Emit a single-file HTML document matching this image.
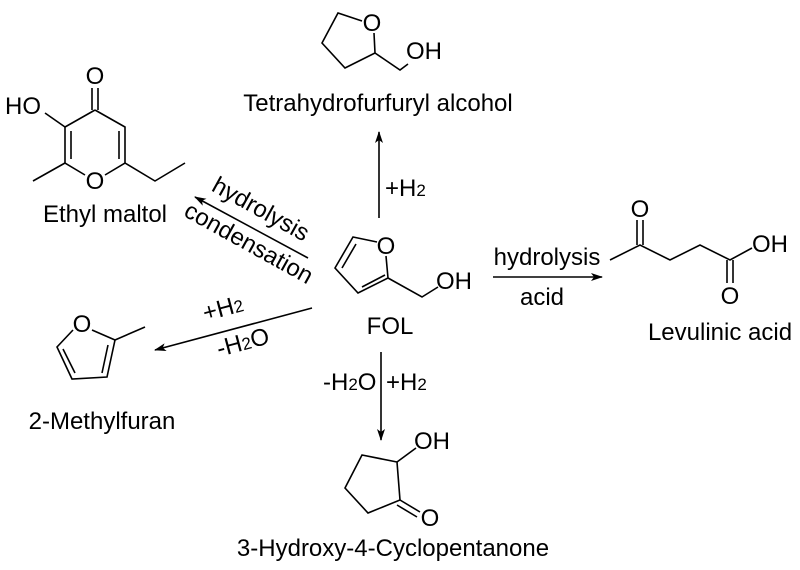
<!DOCTYPE html>
<html><head><meta charset="utf-8"><style>
html,body{margin:0;padding:0;background:#fff;}
svg{display:block;}
text{font-family:"Liberation Sans",Arial,sans-serif;fill:#000;}
</style></head><body>
<svg width="800" height="570" viewBox="0 0 800 570" xmlns="http://www.w3.org/2000/svg">
<defs><marker id="ah" markerWidth="12" markerHeight="8" refX="11" refY="4" orient="auto" markerUnits="userSpaceOnUse"><path d="M0,0 L12,4 L0,8 L3,4 Z" fill="#000"/></marker></defs>
<g stroke="#000" stroke-width="1.6" fill="none">
<!-- THFA -->
<polyline points="362,21 338,13 322,43 345,68 375,53 374,33"/>
<polyline points="375,53 400,70 408,64"/>
<!-- Ethyl maltol -->
<line x1="92" y1="88" x2="92" y2="110"/><line x1="98" y1="88" x2="98" y2="110"/>
<polyline points="95,110 65,127 65,163 85,175"/>
<polyline points="105,175 125,163 125,127 95,110"/>
<line x1="71" y1="131" x2="71" y2="159"/>
<line x1="119" y1="131" x2="119" y2="159"/>
<line x1="65" y1="127" x2="45" y2="113"/>
<polyline points="65,163 33,181"/>
<polyline points="125,163 155,181 185,163"/>
<!-- FOL -->
<polyline points="377,242 353,237 335,268 358,293 388,278 386,256"/>
<line x1="356" y1="244" x2="342" y2="268"/>
<line x1="362" y1="287" x2="385" y2="275"/>
<polyline points="388,278 422,297 438,287"/>
<!-- Levulinic -->
<polyline points="610,260 640,245 670,260 700,245 730,260 752,248"/>
<line x1="637" y1="245" x2="637" y2="220"/><line x1="643" y1="245" x2="643" y2="220"/>
<line x1="727" y1="260" x2="727" y2="283"/><line x1="733" y1="260" x2="733" y2="283"/>
<!-- 2-methylfuran -->
<polyline points="92,330 115,340 107,377 72,379 57,347 73,330"/>
<line x1="108" y1="345" x2="102" y2="373"/>
<line x1="63" y1="349" x2="75" y2="373"/>
<line x1="115" y1="340" x2="145" y2="327"/>
<!-- cyclopentanone -->
<polyline points="397,462 400,500 368,513 345,488 362,455 397,462"/>
<line x1="397" y1="462" x2="416" y2="448"/>
<line x1="400" y1="500" x2="420" y2="512"/>
<line x1="397" y1="505" x2="417" y2="517"/>
<!-- arrows -->
<line x1="379" y1="218" x2="379" y2="132" marker-end="url(#ah)"/>
<line x1="308" y1="258" x2="195" y2="197" marker-end="url(#ah)"/>
<line x1="493" y1="277" x2="602" y2="277" marker-end="url(#ah)"/>
<line x1="312" y1="308" x2="155" y2="350" marker-end="url(#ah)"/>
<line x1="381" y1="352" x2="381" y2="440" marker-end="url(#ah)"/>
</g>
<g font-size="24">
<text x="372" y="31" text-anchor="middle">O</text>
<text x="406" y="59">OH</text>
<text x="378" y="111" text-anchor="middle">Tetrahydrofurfuryl alcohol</text>
<text x="95" y="84" text-anchor="middle">O</text>
<text x="95" y="189" text-anchor="middle">O</text>
<text x="5" y="114">HO</text>
<text x="105" y="222" text-anchor="middle">Ethyl maltol</text>
<text x="386" y="254" text-anchor="middle">O</text>
<text x="436" y="289">OH</text>
<text x="390" y="334" text-anchor="middle">FOL</text>
<text x="547" y="265" text-anchor="middle">hydrolysis</text>
<text x="542" y="305" text-anchor="middle">acid</text>
<text x="640" y="217" text-anchor="middle">O</text>
<text x="752" y="252">OH</text>
<text x="730" y="304" text-anchor="middle">O</text>
<text x="720" y="340" text-anchor="middle">Levulinic acid</text>
<text x="82" y="332" text-anchor="middle">O</text>
<text x="102" y="429" text-anchor="middle">2-Methylfuran</text>
<text x="414" y="449">OH</text>
<text x="430" y="526" text-anchor="middle">O</text>
<text x="393" y="556" text-anchor="middle">3-Hydroxy-4-Cyclopentanone</text>
<text x="385" y="196">+H<tspan font-size="17">2</tspan></text>
<text x="323" y="390">-H<tspan font-size="17">2</tspan>O</text>
<text x="386" y="390">+H<tspan font-size="17">2</tspan></text>
<text transform="translate(257,216) rotate(29)" text-anchor="middle">hydrolysis</text>
<text transform="translate(245,250) rotate(29)" text-anchor="middle">condensation</text>
<text transform="translate(225,316) rotate(-15)" text-anchor="middle">+H<tspan font-size="17">2</tspan></text>
<text transform="translate(245,350) rotate(-15)" text-anchor="middle">-H<tspan font-size="17">2</tspan>O</text>
</g>
</svg>
</body></html>
